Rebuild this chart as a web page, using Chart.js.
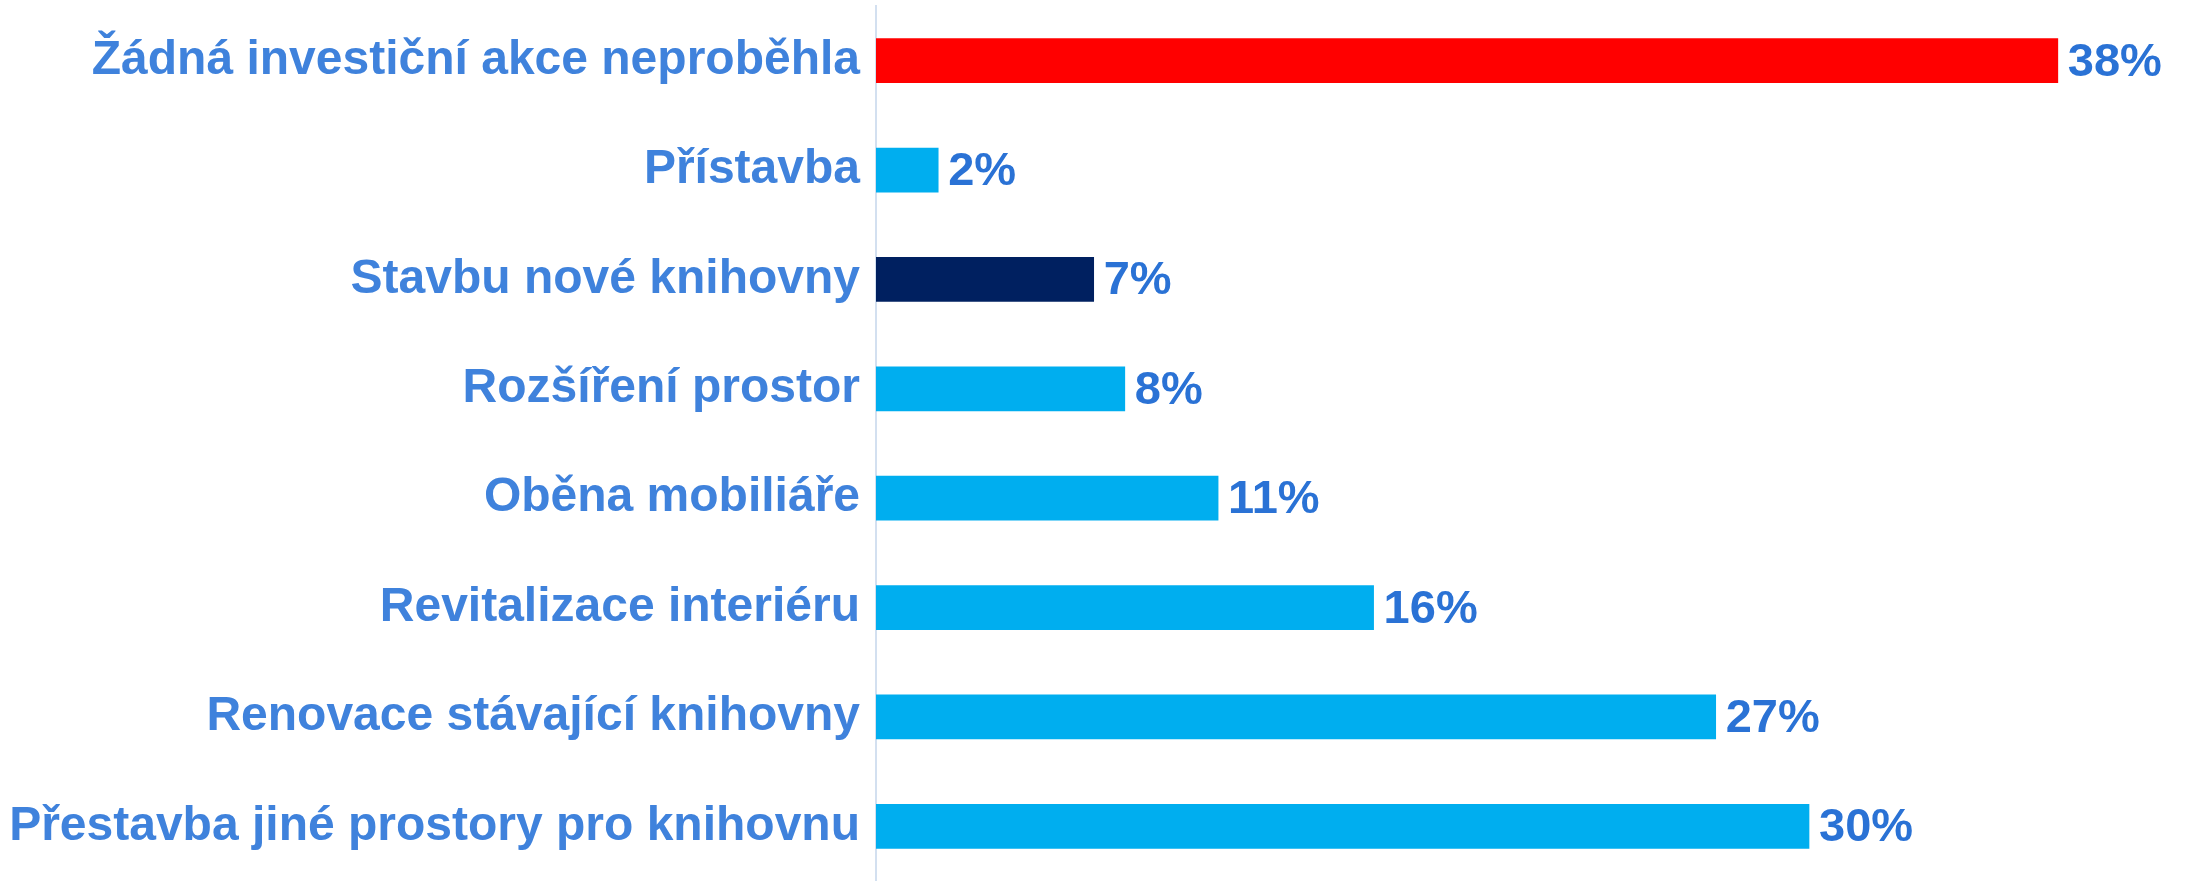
<!DOCTYPE html>
<html>
<head>
<meta charset="utf-8">
<script src="https://cdn.jsdelivr.net/npm/chart.js@4"></script>
<style>
  html, body { margin: 0; padding: 0; background: #ffffff; }
  #wrap { width: 2190px; height: 881px; position: relative; }
</style>
</head>
<body>
<div id="wrap"><canvas id="c" width="2190" height="881"></canvas></div>
<script>
const categories = [
  "Žádná investiční akce neproběhla",
  "Přístavba",
  "Stavbu nové knihovny",
  "Rozšíření prostor",
  "Oběna mobiliáře",
  "Revitalizace interiéru",
  "Renovace stávající knihovny",
  "Přestavba jiné prostory pro knihovnu"
];
const values = [38, 2, 7, 8, 11, 16, 27, 30];
const valueLabels = ["38%", "2%", "7%", "8%", "11%", "16%", "27%", "30%"];
const barColors = ["#FF0000", "#00AEEF", "#002060", "#00AEEF", "#00AEEF", "#00AEEF", "#00AEEF", "#00AEEF"];

const FONT = "'Liberation Sans', Arial, Helvetica, sans-serif";

const valueLabelPlugin = {
  id: 'valueLabels',
  afterDatasetsDraw(chart) {
    const ctx = chart.ctx;
    const meta = chart.getDatasetMeta(0);
    ctx.save();
    ctx.font = "bold 47px " + FONT;
    ctx.fillStyle = "#2A72D5";
    ctx.textAlign = "left";
    ctx.textBaseline = "middle";
    meta.data.forEach((bar, i) => {
      ctx.fillText(valueLabels[i], bar.x + 10, bar.y + 2);
    });
    ctx.restore();
  }
};

new Chart(document.getElementById('c'), {
  type: 'bar',
  data: {
    labels: categories,
    datasets: [{
      data: values,
      backgroundColor: barColors,
      borderWidth: 0,
      barThickness: 44
    }]
  },
  options: {
    indexAxis: 'y',
    responsive: false,
    devicePixelRatio: 1,
    animation: false,
    layout: { padding: { top: 6, right: 0, bottom: 0, left: 0 } },
    plugins: {
      legend: { display: false },
      tooltip: { enabled: false }
    },
    scales: {
      x: {
        display: false,
        min: 0,
        max: 42.25
      },
      y: {
        grid: { display: false, drawTicks: false },
        border: { display: true, color: "#D3E0F0", width: 2 },
        ticks: {
          color: "#3F82DC",
          font: { family: FONT, size: 48, weight: 'bold' },
          padding: 16
        },
        afterFit(scale) {
          scale.width = 876;
          scale.paddingTop = 0;
          scale.paddingBottom = 0;
        }
      }
    }
  },
  plugins: [valueLabelPlugin]
});
</script>
</body>
</html>
